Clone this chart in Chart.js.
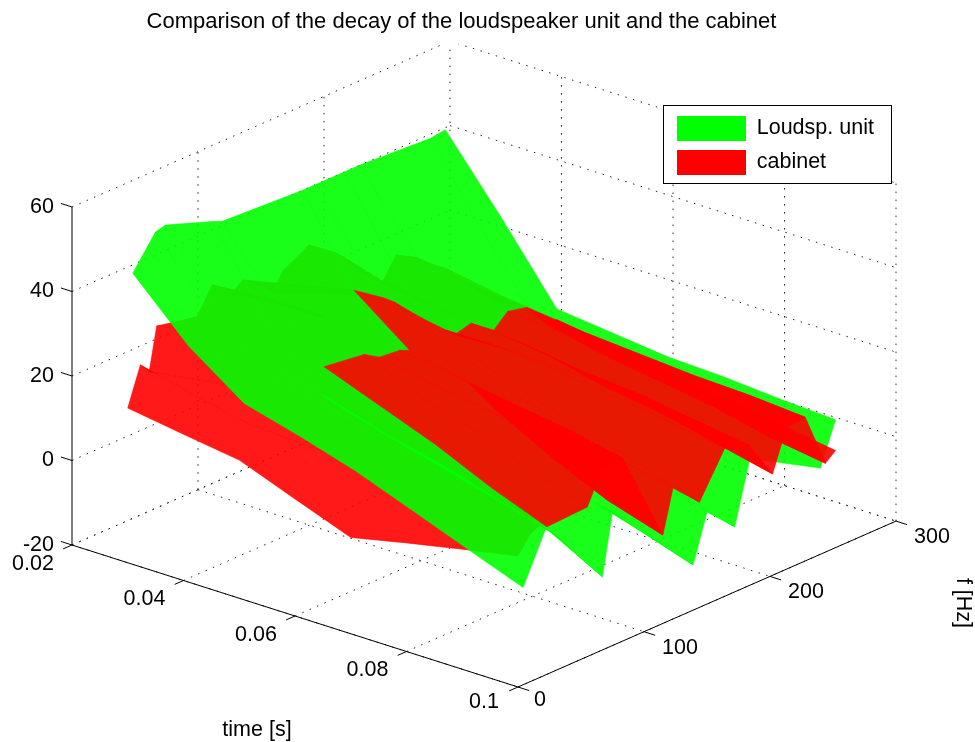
<!DOCTYPE html>
<html><head><meta charset="utf-8"><title>Decay comparison</title>
<style>html,body{margin:0;padding:0;background:#fff}canvas{display:block}</style>
<script src="https://cdn.jsdelivr.net/npm/chart.js@4"></script></head>
<body><canvas id="c" width="975" height="742"></canvas>
<script>
const titleText = 'Comparison of the decay of the loudspeaker unit and the cabinet';
const seriesNames = ['Loudsp. unit', 'cabinet'];
const timeTicks = [0.02, 0.04, 0.06, 0.08, 0.1];
const timeTickLabels = ['0.02', '0.04', '0.06', '0.08', '0.1'];
const freqTicks = [0, 100, 200, 300];
const levelTicks = [-20, 0, 20, 40, 60];
const timeSamples = [0.03, 0.04, 0.05, 0.06, 0.07, 0.08, 0.09, 0.1];

const greenFreqs = [4, 22, 30, 67, 75, 139, 150, 172, 184, 240, 252];
const greenLevels = [
  [48, 35, 25.6, 22, 18, 13, 8, 3],
  [55.4, 40, 30, 27, 24, 21, 18, 14.6],
  [56, 40, 30, 27, 23, 20, 16, 12],
  [52, 32, 19, 15, 11.5, 8, 4.5, -2.7],
  [51, 34, 24, 21, 19, 16, 14, 11.6],
  [50, 28, 10, 7, 3, -1, -5, -9.3],
  [50, 30, 16, 14, 11, 8, 5, 1.8],
  [50, 29, 12, 9, 5, 2, -1, -4.6],
  [50, 33, 20, 18, 16, 14, 12, 10],
  [49, 30, 12, 10, 7, 5, 3, 0.4],
  [49.5, 33, 15.5, 14, 12.5, 12, 11, 10.3]
];
const redFreqs = [0, 10, 17, 23, 55, 67, 83, 91, 115, 123, 144, 164, 171, 184, 202, 213, 228, 244, 252];
const redLevels = [
  [16.6, 14.6, 12.7, 7.7, 2.8, 5.7, 8.4, 11],
  [25.5, 22.3, 19.6, 19, 18, 17, 16, 15],
  [23, 25, 27, 25, 23, 21, 19, 16],
  [33, 36, 38, 36, 31, 26, 20, 14.9],
  [31, 33, 34, 34.7, 29, 25, 20, 15.4],
  [37, 38, 38, 32.5, 30, 28, 25.5, 23],
  [33, 34, 34, 32, 30, 28, 26, 23.3],
  [35, 38, 41, 31, 28, 25, 21, 17.7],
  [29, 33, 36, 27, 18, 11, 5, 0.9],
  [33, 33, 34, 28, 22, 18, 14, 11],
  [36.4, 32, 27.6, 22, 17, 13, 9, 4.9],
  [32, 28, 22, 22, 21, 19, 17, 15],
  [30, 26, 20, 20.5, 20, 19, 18, 16.6],
  [25, 23, 21, 20, 18, 17, 15, 13],
  [20, 18, 17, 15, 12, 10, 7, 4],
  [25, 22, 20, 19, 18, 16, 15, 13.4],
  [22.5, 20, 19, 17.5, 16.5, 15.5, 15, 14],
  [18.5, 15, 13, 10, 8, 6, 3, 1],
  [16.8, 14.5, 13, 11, 9, 7, 5, 3]
];

const GREEN = 'rgba(0,255,0,0.9)', RED = 'rgba(255,0,0,0.9)';
const FONT = '"Liberation Sans", Arial, sans-serif';

// orthographic view of the (time, frequency, level) box onto the chart plane
function project(t, f, z) {
  return {
    x: 72 + 5575 * (t - 0.02) + 1.26 * f,
    y: 545 + 1775 * (t - 0.02) - 0.553 * f - 4.225 * (z + 20)
  };
}
const T0 = timeTicks[0], T1 = timeTicks[timeTicks.length - 1];
const F0 = freqTicks[0], F1 = freqTicks[freqTicks.length - 1];
const Z0 = levelTicks[0], Z1 = levelTicks[levelTicks.length - 1];

function strips(freqs, levels, color, keep) {
  const out = [];
  for (let j = freqs.length - 2; j >= 0; j--) {
    let i = 0;
    while (i < timeSamples.length - 1) {
      if (!keep(i, j)) { i++; continue; }
      let e = i;
      while (e < timeSamples.length - 1 && keep(e, j)) e++;
      const pts = [];
      for (let k = i; k <= e; k++) pts.push(project(timeSamples[k], freqs[j], levels[j][k]));
      for (let k = e; k >= i; k--) pts.push(project(timeSamples[k], freqs[j + 1], levels[j + 1][k]));
      pts.push(pts[0]);
      out.push({ data: pts, showLine: true, fill: 'shape', backgroundColor: color, borderColor: color, borderWidth: 0.6, borderJoinStyle: 'round', pointRadius: 0, pointHoverRadius: 0 });
      i = e;
    }
  }
  return out;
}
// cabinet cells that lie above the loudspeaker surface are painted after it
function redAbove(i, j) {
  const t = timeSamples[i], f = redFreqs[j];
  return f >= 23 && (t >= 0.06 || (t >= 0.05 && f >= 91));
}
function gridLine(a, b) {
  return { data: [project(...a), project(...b)], showLine: true, fill: false, borderColor: '#222', borderWidth: 1, borderDash: [1.5, 6.5], pointRadius: 0 };
}
function axisLine(a, b) {
  return { data: [project(...a), project(...b)], showLine: true, fill: false, borderColor: '#000', borderWidth: 1, pointRadius: 0 };
}
const painted = [];
timeTicks.forEach(t => {
  painted.push(gridLine([t, F0, Z0], [t, F1, Z0]));
  if (t > T0) painted.push(gridLine([t, F1, Z0], [t, F1, Z1]));
});
freqTicks.forEach(f => {
  painted.push(gridLine([T0, f, Z0], [T1, f, Z0]));
  if (f > F0) painted.push(gridLine([T0, f, Z0], [T0, f, Z1]));
});
levelTicks.forEach(z => {
  painted.push(gridLine([T0, F0, z], [T0, F1, z]));
  painted.push(gridLine([T0, F1, z], [T1, F1, z]));
});
painted.push(...strips(redFreqs, redLevels, RED, (i, j) => !redAbove(i, j)));
painted.push(...strips(greenFreqs, greenLevels, GREEN, () => true));
painted.push(...strips(redFreqs, redLevels, RED, redAbove));
painted.push(axisLine([T0, F0, Z0], [T0, F0, Z1]));
painted.push(axisLine([T0, F0, Z0], [T1, F0, Z0]));
painted.push(axisLine([T1, F0, Z0], [T1, F1, Z0]));
timeTicks.forEach(t => painted.push(axisLine([t, F0, Z0], [t, F0 - 7, Z0])));
freqTicks.forEach(f => painted.push(axisLine([T1, f, Z0], [T1 + 0.002, f, Z0])));
levelTicks.forEach(z => painted.push(axisLine([T0, F0, z], [T0 - 0.002, F0, z])));
painted.forEach((d, i) => { d.order = painted.length - i; });

const frame = {
  id: 'frame',
  afterLayout(chart) {
    const l = chart.legend;
    l.left = 668; l.top = 107; l.right = 891; l.bottom = 742;
  },
  afterDatasetsDraw(chart) {
    const c = chart.ctx;
    c.save();
    c.fillStyle = '#fff'; c.fillRect(663, 105, 228, 78);
    c.strokeStyle = '#000'; c.lineWidth = 1; c.strokeRect(663.5, 105.5, 228, 78);
    c.restore();
    chart.legend.draw();
    const sx = chart.scales.x, sy = chart.scales.y;
    const at = p => ({ x: sx.getPixelForValue(p.x), y: sy.getPixelForValue(p.y) });
    c.save();
    c.fillStyle = '#000';
    c.font = '21.5px ' + FONT;
    c.textBaseline = 'middle';
    c.textAlign = 'right';
    levelTicks.forEach(z => { const p = at(project(T0, F0, z)); c.fillText(String(z), p.x - 18, p.y); });
    c.textAlign = 'center';
    timeTicks.forEach((t, i) => {
      const p = at(project(t, F0, Z0));
      const last = i === timeTicks.length - 1;
      c.fillText(timeTickLabels[i], p.x + (last ? -34 : -39), p.y + (last ? 15 : 19));
    });
    freqTicks.forEach((f, i) => {
      const p = at(project(T1, f, Z0));
      c.fillText(String(f), p.x + (i === 0 ? 22 : 36), p.y + (i === 0 ? 13 : 16));
    });
    c.fillText('time [s]', 257, 730);
    c.translate(963, 603); c.rotate(Math.PI / 2);
    c.fillText('f [Hz]', 0, 0);
    c.restore();
  }
};

new Chart(document.getElementById('c'), {
  type: 'scatter',
  data: { datasets: painted },
  plugins: [frame],
  options: {
    responsive: false,
    animation: false,
    events: [],
    layout: { padding: { left: 0, top: 0, right: 52, bottom: 0 } },
    scales: {
      x: { type: 'linear', display: false, min: 0, max: 923 },
      y: { type: 'linear', display: false, min: 44, max: 742, reverse: true }
    },
    plugins: {
      tooltip: { enabled: false },
      title: { display: true, text: titleText, color: '#000', font: { family: FONT, size: 22, weight: 'normal', lineHeight: 1.2 }, padding: { top: 8.8, bottom: 8.8 } },
      legend: {
        display: true, position: 'chartArea', align: 'start',
        labels: {
          boxWidth: 69, boxHeight: 25, padding: 9, color: '#000', font: { family: FONT, size: 21.5 },
          generateLabels: () => seriesNames.map((n, i) => ({ text: n, fillStyle: i ? '#f00' : '#0f0', strokeStyle: 'transparent', lineWidth: 0, hidden: false, datasetIndex: 0 }))
        }
      }
    }
  }
});
</script></body></html>
